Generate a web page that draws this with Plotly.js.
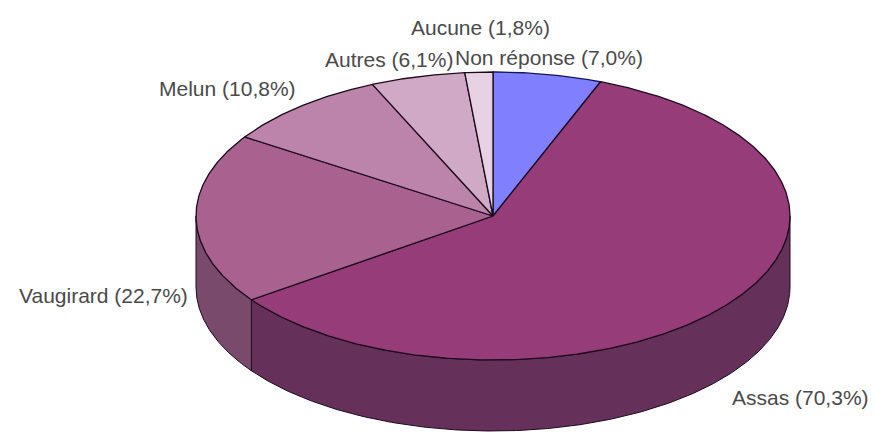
<!DOCTYPE html>
<html>
<head>
<meta charset="utf-8">
<script src="https://cdn.plot.ly/plotly-3.0.1.min.js"></script>
<style>html,body{margin:0;padding:0;background:#fff}#chart{width:875px;height:432px}</style>
</head>
<body>
<div id="chart"></div>
<script>
// Data (clockwise from 12 o'clock)
const categories = ["Non réponse", "Assas", "Vaugirard", "Melun", "Autres", "Aucune"];
const percents = [7.0, 70.3, 22.7, 10.8, 6.1, 1.8];
const tickLabels = ["Non réponse (7,0%)", "Assas (70,3%)", "Vaugirard (22,7%)", "Melun (10,8%)", "Autres (6,1%)", "Aucune (1,8%)"];

// Styles
const topColors = ["#8080ff", "#963c78", "#a9628f", "#bc84aa", "#cfa9c6", "#e6d2e2"];
const wallColors = ["#40407f", "#65305a", "#7a4a6c", "#5e4254", "#675463", "#736971"];
const edgeColors = ["#14145a", "#1c0a1c", "#1c0a1c", "#1c0a1c", "#1c0a1c", "#1c0a1c"];
const labelX = [549, 800, 103, 227, 389, 480];
const labelY = [57, 397, 295, 88, 59, 27];

// Pie geometry in chart units
const cx = 493, cy = 216, rx = 297, ry = 144, depth = 71;
const total = percents.reduce((a, b) => a + b, 0);

function arc(a0, a1, dy) {
  const n = Math.max(2, Math.ceil((a1 - a0) / 0.5));
  const xs = [], ys = [];
  for (let i = 0; i <= n; i++) {
    const t = (a0 + (a1 - a0) * i / n) * Math.PI / 180;
    xs.push(cx + rx * Math.sin(t));
    ys.push(cy - ry * Math.cos(t) + dy);
  }
  return [xs, ys];
}

const walls = [], tops = [];
let start = 0;
percents.forEach((v, i) => {
  const end = start + v / total * 360;
  const a0 = Math.max(start, 90), a1 = Math.min(end, 270);
  if (a1 > a0) {
    const [x1, y1] = arc(a0, a1, 0);
    const [x2, y2] = arc(a0, a1, depth);
    walls.push({
      type: "scatter", mode: "lines", fill: "toself", hoverinfo: "skip",
      name: categories[i] + " side", fillcolor: wallColors[i],
      line: {color: edgeColors[i], width: 1},
      x: x1.concat(x2.slice().reverse(), [x1[0]]),
      y: y1.concat(y2.slice().reverse(), [y1[0]])
    });
  }
  const [xa, ya] = arc(start, end, 0);
  tops.push({
    type: "scatter", mode: "lines", fill: "toself", hoverinfo: "text",
    text: tickLabels[i], name: categories[i], fillcolor: topColors[i],
    line: {color: edgeColors[i], width: 1.3},
    x: [cx].concat(xa, [cx]),
    y: [cy].concat(ya, [cy])
  });
  start = end;
});

const annotations = tickLabels.map((t, i) => ({
  text: t, x: labelX[i], y: labelY[i], xref: "x", yref: "y",
  showarrow: false, xanchor: "center", yanchor: "middle",
  font: {family: "Liberation Sans, Arial, sans-serif", size: 21, color: "#4a4a4a"}
}));

const hidden = {visible: false, fixedrange: true};
Plotly.newPlot("chart", walls.concat(tops), {
  width: 875, height: 432,
  margin: {l: 0, r: 0, t: 0, b: 0},
  paper_bgcolor: "#fff", plot_bgcolor: "#fff",
  showlegend: false,
  xaxis: Object.assign({range: [0, 875]}, hidden),
  yaxis: Object.assign({range: [432, 0]}, hidden),
  annotations: annotations
}, {displayModeBar: false});
</script>
</body>
</html>
